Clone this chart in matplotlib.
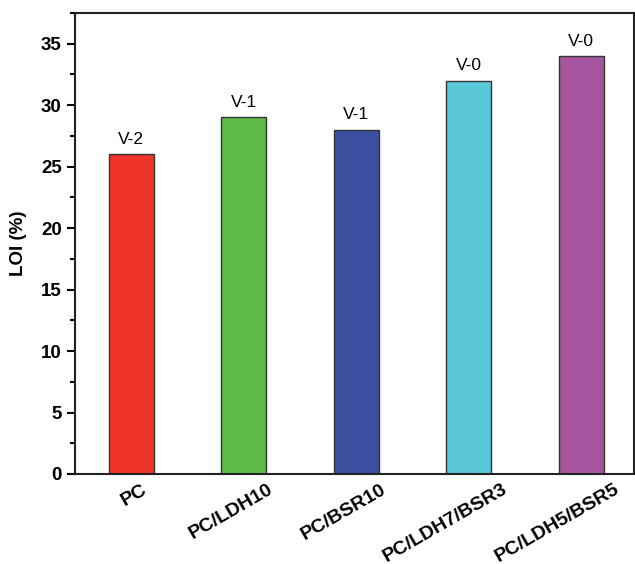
import numpy as np
import matplotlib.pyplot as plt
import matplotlib.transforms as mtransforms
from matplotlib.ticker import MultipleLocator

plt.rcParams['font.family'] = ['Liberation Sans', 'DejaVu Sans']

samples = ["PC", "PC/LDH10", "PC/BSR10", "PC/LDH7/BSR3", "PC/LDH5/BSR5"]
loi = [26, 29, 28, 32, 34]
ul94 = ["V-2", "V-1", "V-1", "V-0", "V-0"]
colors = ["#EE3329", "#5FBA4A", "#3A4FA0", "#5BC8DA", "#A6569F"]

fig = plt.figure(figsize=(6.35, 5.64), dpi=100)
ax = fig.add_axes([75/635, 1-474/564, 559/635, 461/564])

x = np.arange(len(samples))
bars = ax.bar(x, loi, width=0.4, color=colors, edgecolor="#333333", linewidth=1)
for xi, v, lab in zip(x, loi, ul94):
    ax.text(xi, v + 0.6, lab, ha="center", va="bottom", fontsize=12.5)

ax.set_xlim(-0.5, 4.47)
ax.set_ylim(0, 37.5)
ax.yaxis.set_major_locator(MultipleLocator(5))
ax.yaxis.set_minor_locator(MultipleLocator(2.5))
ax.tick_params(axis="y", which="major", direction="out", length=6, width=1.5, labelsize=13.5)
ax.tick_params(axis="y", which="minor", direction="out", length=3.5, width=1.5)
ax.tick_params(axis="x", length=0, pad=5)
for t in ax.get_yticklabels():
    t.set_fontweight("bold")
ax.set_xticks(x)
ax.set_xticklabels(samples, rotation=30, ha="right", rotation_mode="anchor",
                   fontsize=14, fontweight="bold")
ax.set_ylabel("LOI (%)", fontsize=13.5, fontweight="bold", labelpad=10)
for s in ax.spines.values():
    s.set_linewidth(1.5)
    s.set_color("#222222")

# shift labels right, longer ones a bit more
fig.canvas.draw()
for t in ax.get_xticklabels():
    w = t.get_window_extent().width
    dx = (3 + 0.23 * w) / 100
    t.set_transform(t.get_transform() + mtransforms.ScaledTranslation(dx, 0, fig.dpi_scale_trans))

plt.savefig("out.png", dpi=100)
